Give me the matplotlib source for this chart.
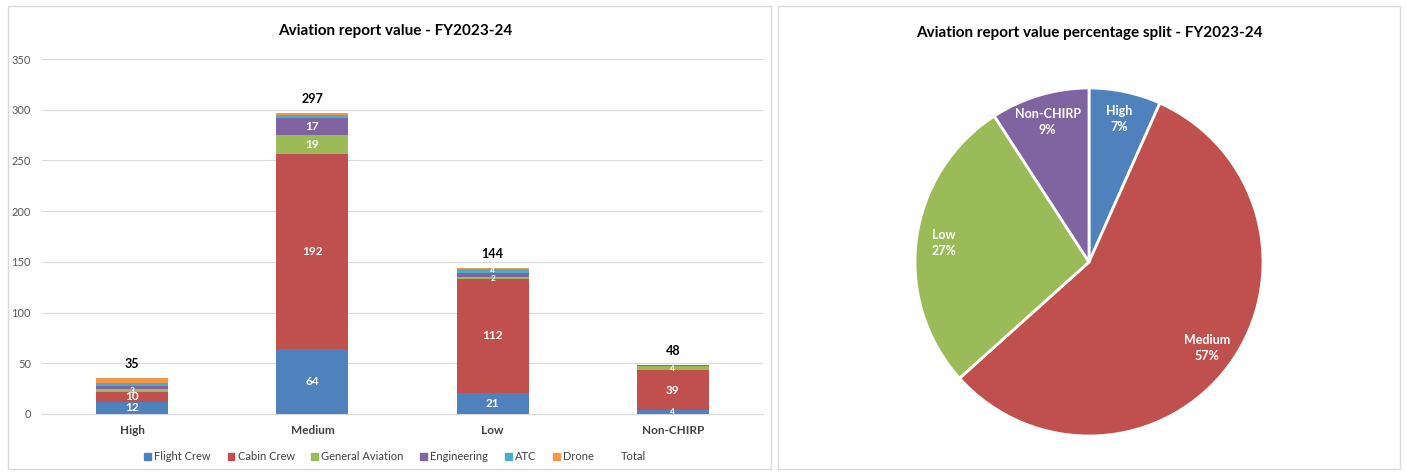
import numpy as np
import matplotlib.pyplot as plt
from matplotlib.patches import Rectangle, Patch

plt.rcParams['font.family'] = ['Lato', 'DejaVu Sans']

# Données
categories = ["High", "Medium", "Low", "Non-CHIRP"]
series_names = ["Flight Crew", "Cabin Crew", "General Aviation", "Engineering", "ATC", "Drone"]
flight_crew = [12, 64, 21, 4]
cabin_crew = [10, 192, 112, 39]
general_aviation = [3, 19, 2, 4]
engineering = [3, 17, 4, 1]
atc = [3, 3, 4, 0]
drone = [4, 2, 1, 0]
totals = [35, 297, 144, 48]
yticks = [0, 50, 100, 150, 200, 250, 300, 350]

colors = ["#4F81BD", "#C0504D", "#9BBB59", "#8064A2", "#4BACC6", "#F79646"]
series = [flight_crew, cabin_crew, general_aviation, engineering, atc, drone]
# seuil d'affichage des étiquettes par série
min_label = [1, 1, 1, 10, 4, 100]

fig = plt.figure(figsize=(14.06, 4.75), dpi=100)

# cadres des deux panneaux
for x0, x1 in [(8, 771), (778, 1400)]:
    fig.add_artist(Rectangle((x0 / 1406, 6 / 475), (x1 - x0) / 1406, 463 / 475,
                             transform=fig.transFigure, fill=False,
                             edgecolor="#D9D9D9", linewidth=1))

# --- Histogramme empilé ---
ax = fig.add_axes([42 / 1406, 1 - 414 / 475, (763 - 42) / 1406, (414 - 59) / 475])
x = np.arange(len(categories))
bottom = np.zeros(len(categories))
for name, vals, col, thr in zip(series_names, series, colors, min_label):
    vals = np.array(vals, dtype=float)
    ax.bar(x, vals, width=0.4, bottom=bottom, color=col, label=name, zorder=3)
    for xi, v, b in zip(x, vals, bottom):
        if v >= thr:
            fs = 8.5 if v >= 5 else 6
            ax.text(xi, b + v / 2, f"{int(v)}", ha="center", va="center",
                    color="white", fontsize=fs, fontweight="bold", zorder=4)
    bottom += vals

for xi, t in zip(x, totals):
    ax.text(xi, t + 8, str(t), ha="center", va="bottom", fontsize=9,
            fontweight="bold", color="black")

ax.set_xlim(-0.5, len(categories) - 0.5)
ax.set_ylim(0, 350)
ax.set_yticks(yticks)
ax.tick_params(axis="y", length=0, labelsize=8, colors="#595959", pad=8)
ax.tick_params(axis="x", length=0, pad=8)
ax.set_xticks(x)
ax.set_xticklabels(categories, fontsize=8.5, fontweight="bold", color="#404040")
ax.grid(axis="y", color="#D9D9D9", linewidth=0.8, zorder=0)
for s in ["top", "right", "left"]:
    ax.spines[s].set_visible(False)
ax.spines["bottom"].set_color("#D9D9D9")

handles = [Patch(color=c, label=n) for c, n in zip(colors, series_names)]
handles.append(Patch(color="none", label="Total"))
fig.legend(handles=handles, loc="center", bbox_to_anchor=(395 / 1406, 1 - 457 / 475),
           ncol=7, frameon=False, fontsize=8, handlelength=0.6, handleheight=0.6,
           handletextpad=0.3, columnspacing=1.5, labelcolor="#404040")

fig.text(395 / 1406, 1 - 31 / 475, "Aviation report value - FY2023-24",
         ha="center", va="center", fontsize=11, fontweight="bold")

# --- Camembert ---
r_px = 174
cx, cy = 1089, 262
axp = fig.add_axes([(cx - r_px) / 1406, 1 - (cy + r_px) / 475, 2 * r_px / 1406, 2 * r_px / 475])
wedges, _ = axp.pie(totals, colors=colors[:4], startangle=90, counterclock=False,
                    wedgeprops=dict(edgecolor="white", linewidth=2))
axp.set_xlim(-1, 1)
axp.set_ylim(-1, 1)
axp.set_aspect("auto")
total_all = sum(totals)
for w, cat, t in zip(wedges, categories, totals):
    ang = np.deg2rad((w.theta1 + w.theta2) / 2)
    r = 0.84
    axp.text(r * np.cos(ang), r * np.sin(ang), f"{cat}\n{round(100 * t / total_all)}%",
             ha="center", va="center", color="white", fontsize=9, fontweight="bold",
             linespacing=1.4)

fig.text(1089 / 1406, 1 - 33 / 475, "Aviation report value percentage split - FY2023-24",
         ha="center", va="center", fontsize=11, fontweight="bold")

plt.savefig("out.png", dpi=100)
